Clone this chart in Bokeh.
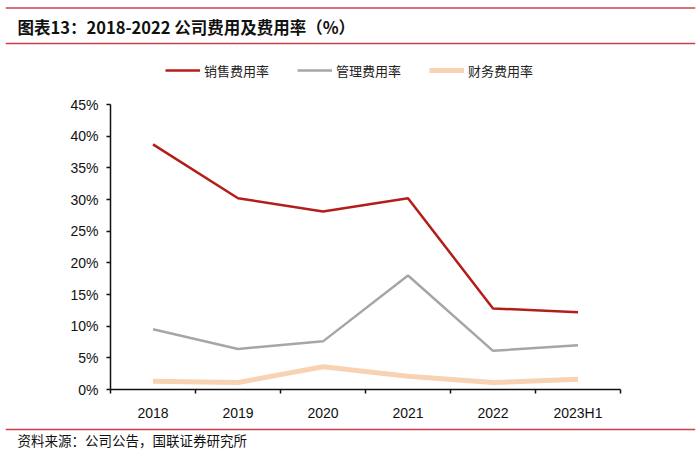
from bokeh.plotting import figure
from bokeh.models import (Range1d, Label, Legend, LegendItem, FixedTicker, Span,
                          PrintfTickFormatter, CustomJSTickFormatter)
from bokeh.layouts import column
from bokeh.embed import file_html
from bokeh.resources import INLINE

# ---- data ----
categories = ["2018", "2019", "2020", "2021", "2022", "2023H1"]
sales_rate = [38.7, 30.2, 28.1, 30.2, 12.8, 12.2]
admin_rate = [9.5, 6.4, 7.6, 18.0, 6.1, 7.0]
finance_rate = [1.3, 1.1, 3.6, 2.1, 1.1, 1.6]
series_names = ["销售费用率", "管理费用率", "财务费用率"]
y_ticks = [0, 5, 10, 15, 20, 25, 30, 35, 40, 45]
title_text = "图表13：2018-2022 公司费用及费用率（%）"
source_text = "资料来源：公司公告，国联证券研究所"

W = 700
RULE = "#C8414E"
CJK = "Noto Sans CJK SC"
LAT = "Liberation Sans"


def banner(height):
    f = figure(width=W, height=height, x_range=Range1d(0, W - 10), y_range=Range1d(height, 0),
               output_backend="svg", toolbar_location=None,
               min_border=0, min_border_left=5, min_border_right=5,
               min_border_top=0, min_border_bottom=0)
    f.frame_align = False
    f.axis.visible = False
    f.grid.visible = False
    f.outline_line_color = None
    return f


# ---- header ----
hdr = banner(50)
hdr.add_layout(Span(location=7.5, dimension="width", line_color=RULE, line_width=1.5))
hdr.add_layout(Span(location=43, dimension="width", line_color=RULE, line_width=1.5))
hdr.add_layout(Label(x=12, y=26, text=title_text, text_font=CJK, text_font_style="bold",
                     text_font_size="16.5px", text_color="#111111",
                     text_baseline="middle", text_align="left"))

# ---- main chart ----
p = figure(width=W, height=373, x_range=Range1d(0, len(categories)),
           y_range=Range1d(0, 51.95),
           output_backend="svg", toolbar_location=None,
           min_border_left=110, min_border_right=80,
           min_border_top=10, min_border_bottom=34)
p.frame_align = False
p.grid.visible = False
p.outline_line_color = None

xs = [i + 0.5 for i in range(len(categories))]
r_fin = p.line(xs, finance_rate, line_color="#F8D3B3", line_width=5)
r_adm = p.line(xs, admin_rate, line_color="#A6A6A6", line_width=2.5)
r_sal = p.line(xs, sales_rate, line_color="#B41E1A", line_width=2.5)

ya = p.yaxis[0]
ya.ticker = FixedTicker(ticks=y_ticks)
ya.formatter = PrintfTickFormatter(format="%d%%")
ya.bounds = (0, 45)
ya.axis_line_color = "#111111"
ya.axis_line_width = 1.5
ya.major_tick_line_color = "#111111"
ya.major_tick_line_width = 1.5
ya.major_tick_in = 0
ya.major_tick_out = 4
ya.minor_tick_line_color = None
ya.major_label_standoff = 8
ya.major_label_text_font = LAT
ya.major_label_text_font_size = "14px"
ya.major_label_text_color = "#111111"

xa = p.xaxis[0]
xa.ticker = FixedTicker(ticks=xs, minor_ticks=list(range(len(categories) + 1)))
xa.formatter = CustomJSTickFormatter(args=dict(labels=categories),
                                     code="return labels[Math.round(tick - 0.5)];")
xa.axis_line_color = "#111111"
xa.axis_line_width = 1.5
xa.major_tick_line_color = None
xa.major_tick_in = 0
xa.major_tick_out = 0
xa.minor_tick_line_color = "#111111"
xa.minor_tick_line_width = 1.5
xa.minor_tick_in = 0
xa.minor_tick_out = 4
xa.major_label_standoff = 11
xa.major_label_text_font = LAT
xa.major_label_text_font_size = "14px"
xa.major_label_text_color = "#111111"

legend = Legend(items=[LegendItem(label=series_names[0], renderers=[r_sal]),
                       LegendItem(label=series_names[1], renderers=[r_adm]),
                       LegendItem(label=series_names[2], renderers=[r_fin])],
                orientation="horizontal", location=(55, 329 - 20),
                padding=0, margin=0, spacing=28,
                glyph_width=35, glyph_height=20, label_height=20,
                label_standoff=4,
                label_text_font=CJK, label_text_font_size="13px",
                label_text_color="#222222",
                background_fill_alpha=0, border_line_color=None)
p.add_layout(legend, "center")

# ---- footer ----
ftr = banner(28)
ftr.add_layout(Span(location=6, dimension="width", line_color=RULE, line_width=1.5))
ftr.add_layout(Label(x=12, y=16, text=source_text, text_font=CJK,
                     text_font_size="13.5px", text_color="#111111",
                     text_baseline="middle", text_align="left"))

layout = column(hdr, p, ftr, spacing=0)
open("out.html", "w").write(file_html(layout, INLINE))
